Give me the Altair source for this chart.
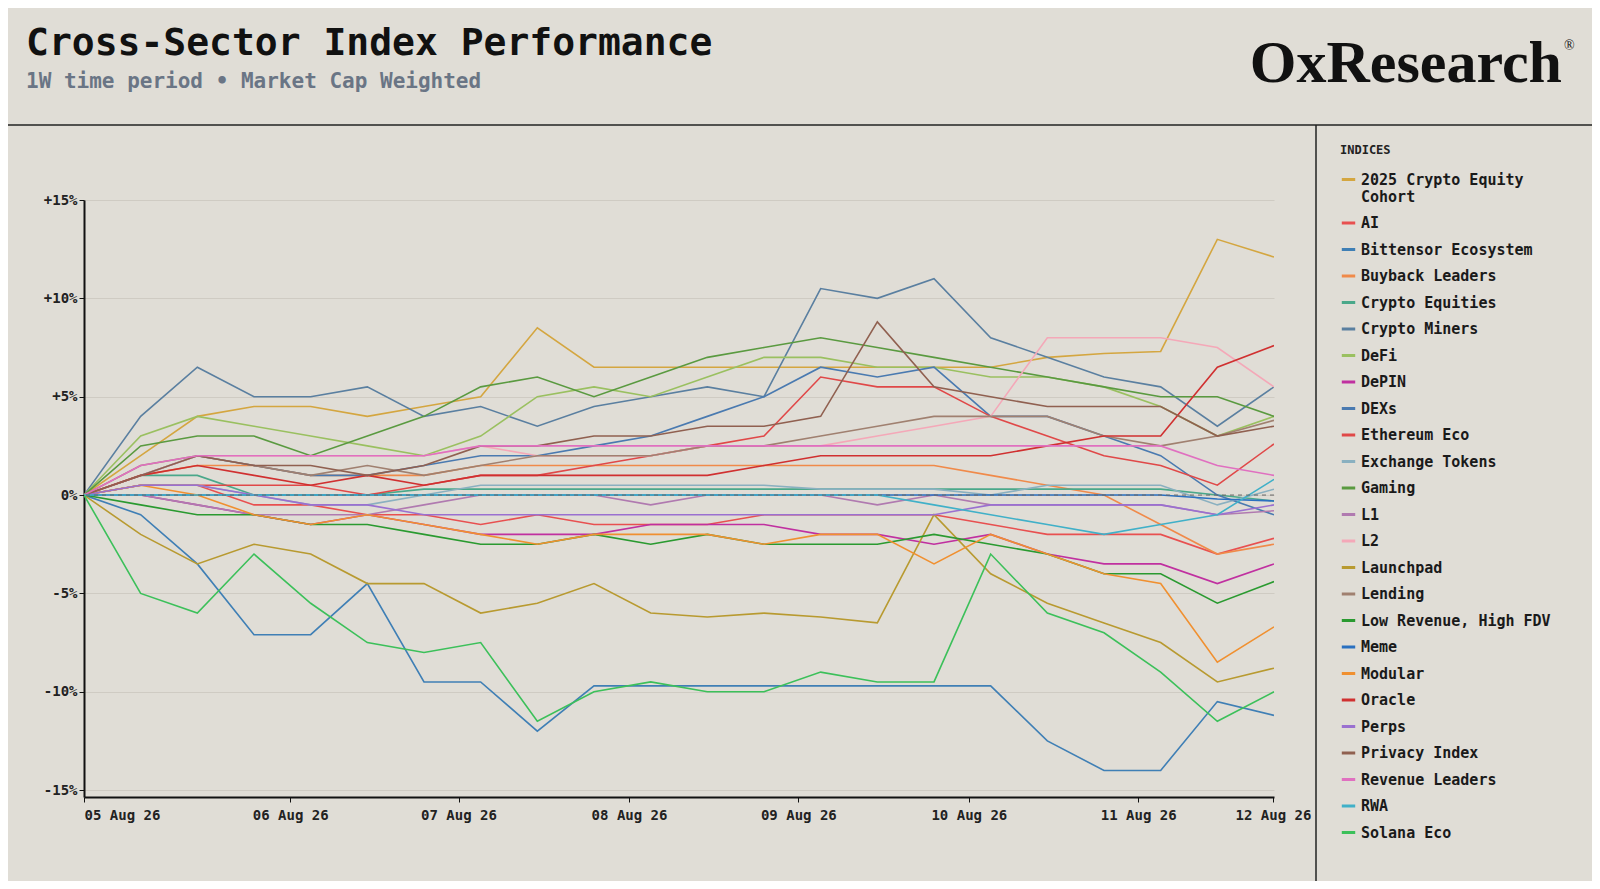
import altair as alt
import pandas as pd

# x positions (days from start) of the sampled points
days = [i / 3 for i in range(22)]

series_names = [
    '2025 Crypto Equity Cohort', 'AI', 'Bittensor Ecosystem', 'Buyback Leaders',
    'Crypto Equities', 'Crypto Miners', 'DeFi', 'DePIN', 'DEXs', 'Ethereum Eco',
    'Exchange Tokens', 'Gaming', 'L1', 'L2', 'Launchpad', 'Lending',
    'Low Revenue, High FDV', 'Meme', 'Modular', 'Oracle', 'Perps',
    'Privacy Index', 'Revenue Leaders', 'RWA', 'Solana Eco',
]
series_colors = [
    '#d4a640', '#e85050', '#3f7fb5', '#f08a4a', '#4aa88a', '#5a7fa0', '#9ac060',
    '#c030a0', '#4a7ab0', '#e04848', '#8ab0c0', '#5a9a40', '#b07ab0', '#f4a8b8',
    '#b89a30', '#a08070', '#2a9a30', '#2a70c0', '#f09030', '#d03030', '#9a70d0',
    '#906050', '#e070c0', '#40b0c8', '#3cc05a',
]

values = {
    '2025 Crypto Equity Cohort': [0, 2, 4, 4.5, 4.5, 4, 4.5, 5, 8.5, 6.5, 6.5, 6.5, 6.5, 6.5, 6.5, 6.5, 6.5, 7, 7.2, 7.3, 13, 12.1],
    'AI': [0, 0.5, 0.5, -0.5, -0.5, -1, -1, -1.5, -1, -1.5, -1.5, -1.5, -1, -1, -1, -1, -1.5, -2, -2, -2, -3, -2.2],
    'Bittensor Ecosystem': [0, -1, -3.5, -7.1, -7.1, -4.5, -9.5, -9.5, -12, -9.7, -9.7, -9.7, -9.7, -9.7, -9.7, -9.7, -9.7, -12.5, -14, -14, -10.5, -11.2],
    'Buyback Leaders': [0, 1, 1.5, 1.5, 1, 1, 1, 1.5, 1.5, 1.5, 1.5, 1.5, 1.5, 1.5, 1.5, 1.5, 1, 0.5, 0, -1.5, -3, -2.5],
    'Crypto Equities': [0, 1, 1, 0, 0, 0, 0.3, 0.3, 0.3, 0.3, 0.3, 0.3, 0.3, 0.3, 0.3, 0.3, 0.3, 0.3, 0.3, 0.3, 0, -0.3],
    'Crypto Miners': [0, 4, 6.5, 5, 5, 5.5, 4, 4.5, 3.5, 4.5, 5, 5.5, 5, 10.5, 10, 11, 8, 7, 6, 5.5, 3.5, 5.5],
    'DeFi': [0, 3, 4, 3.5, 3, 2.5, 2, 3, 5, 5.5, 5, 6, 7, 7, 6.5, 6.5, 6, 6, 5.5, 4.5, 3, 4],
    'DePIN': [0, 0, -0.5, -1, -1.5, -1, -1.5, -2, -2, -2, -1.5, -1.5, -1.5, -2, -2, -2.5, -2, -3, -3.5, -3.5, -4.5, -3.5],
    'DEXs': [0, 1, 2, 1.5, 1, 1, 1.5, 2, 2, 2.5, 3, 4, 5, 6.5, 6, 6.5, 4, 4, 3, 2, 0, -1],
    'Ethereum Eco': [0, 0.5, 0.5, 0.5, 0.5, 0, 0.5, 1, 1, 1.5, 2, 2.5, 3, 6, 5.5, 5.5, 4, 3, 2, 1.5, 0.5, 2.6],
    'Exchange Tokens': [0, 0.5, 0.5, 0, -0.5, -0.5, 0, 0.5, 0.5, 0.5, 0.5, 0.5, 0.5, 0.3, 0.3, 0.3, 0, 0.5, 0.5, 0.5, -0.5, 0.3],
    'Gaming': [0, 2.5, 3, 3, 2, 3, 4, 5.5, 6, 5, 6, 7, 7.5, 8, 7.5, 7, 6.5, 6, 5.5, 5, 5, 4],
    'L1': [0, 0, -0.5, -1, -1, -1, -0.5, 0, 0, 0, -0.5, 0, 0, 0, -0.5, 0, -0.5, -0.5, -0.5, -0.5, -1, -0.8],
    'L2': [0, 1, 2, 2, 2, 2, 2, 2.5, 2, 2, 2, 2.5, 2.5, 2.5, 3, 3.5, 4, 8, 8, 8, 7.5, 5.5],
    'Launchpad': [0, -2, -3.5, -2.5, -3, -4.5, -4.5, -6, -5.5, -4.5, -6, -6.2, -6, -6.2, -6.5, -1, -4, -5.5, -6.5, -7.5, -9.5, -8.8],
    'Lending': [0, 1.5, 2, 1.5, 1, 1.5, 1, 1.5, 2, 2, 2, 2.5, 2.5, 3, 3.5, 4, 4, 4, 3, 2.5, 3, 3.8],
    'Low Revenue, High FDV': [0, -0.5, -1, -1, -1.5, -1.5, -2, -2.5, -2.5, -2, -2.5, -2, -2.5, -2.5, -2.5, -2, -2.5, -3, -4, -4, -5.5, -4.4],
    'Meme': [0, 0, 0, 0, 0, 0, 0, 0, 0, 0, 0, 0, 0, 0, 0, 0, 0, 0, 0, 0, -0.2, -0.3],
    'Modular': [0, 0.5, 0, -1, -1.5, -1, -1.5, -2, -2.5, -2, -2, -2, -2.5, -2, -2, -3.5, -2, -3, -4, -4.5, -8.5, -6.7],
    'Oracle': [0, 1, 1.5, 1, 0.5, 1, 0.5, 1, 1, 1, 1, 1, 1.5, 2, 2, 2, 2, 2.5, 3, 3, 6.5, 7.6],
    'Perps': [0, 0.5, 0.5, 0, -0.5, -0.5, -1, -1, -1, -1, -1, -1, -1, -1, -1, -1, -0.5, -0.5, -0.5, -0.5, -1, -0.5],
    'Privacy Index': [0, 1, 2, 1.5, 1.5, 1, 1.5, 2.5, 2.5, 3, 3, 3.5, 3.5, 4, 8.8, 5.5, 5, 4.5, 4.5, 4.5, 3, 3.5],
    'Revenue Leaders': [0, 1.5, 2, 2, 2, 2, 2, 2.5, 2.5, 2.5, 2.5, 2.5, 2.5, 2.5, 2.5, 2.5, 2.5, 2.5, 2.5, 2.5, 1.5, 1],
    'RWA': [0, 0, 0, 0, 0, 0, 0, 0, 0, 0, 0, 0, 0, 0, 0, -0.5, -1, -1.5, -2, -1.5, -1, 0.8],
    'Solana Eco': [0, -5, -6, -3, -5.5, -7.5, -8, -7.5, -11.5, -10, -9.5, -10, -10, -9, -9.5, -9.5, -3, -6, -7, -9, -11.5, -10],
}

tick_days = [0, 1.213, 2.203, 3.206, 4.202, 5.205, 6.201, 6.994]
tick_labels = ['05 Aug 26', '06 Aug 26', '07 Aug 26', '08 Aug 26', '09 Aug 26', '10 Aug 26', '11 Aug 26', '12 Aug 26']

rows = []
for name in series_names:
    for d, v in zip(days, values[name]):
        rows.append({'day': d, 'pct': v, 'index': name})
df = pd.DataFrame(rows)

MONO = 'DejaVu Sans Mono'
BG = '#e0ddd6'
W, H = 1190, 597

label_js = '[' + ','.join("'%s'" % t for t in tick_labels) + ']'

lines = alt.Chart(df).mark_line(strokeWidth=1.6, clip=True).encode(
    x=alt.X('day:Q', title=None,
            scale=alt.Scale(domain=[0, 7], nice=False, zero=False),
            axis=alt.Axis(values=tick_days, grid=False, labelExpr=label_js + '[round(datum.value - 0.21)]',
                          domainColor='#111', domainWidth=2, tickColor='#111', labelFontSize=14,
                          labelFont=MONO, labelFontWeight='bold', labelColor='#222', labelPadding=6)),
    y=alt.Y('pct:Q', title=None,
            scale=alt.Scale(domain=[-15.35, 15], nice=False),
            axis=alt.Axis(values=[-15, -10, -5, 0, 5, 10, 15], gridColor='#cfcbc3',
                          labelExpr="datum.value > 0 ? '+' + datum.value + '%' : datum.value + '%'",
                          domainColor='#111', domainWidth=2, tickColor='#111', labelFontSize=14,
                          labelFont=MONO, labelFontWeight='bold', labelColor='#222')),
    color=alt.Color('index:N', scale=alt.Scale(domain=series_names, range=series_colors),
                    legend=alt.Legend(title='INDICES', orient='none', legendX=1256, legendY=-55,
                                      titleFont=MONO, titleFontSize=12, titleFontWeight='bold',
                                      titleColor='#222', titlePadding=14,
                                      labelFont=MONO, labelFontSize=15, labelFontWeight='bold',
                                      labelColor='#1a1a1a', labelLimit=260, rowPadding=9.5,
                                      symbolType='stroke', symbolStrokeWidth=3, symbolSize=180,
                                      labelExpr="datum.label == '2025 Crypto Equity Cohort' ? ['2025 Crypto Equity', 'Cohort'] : datum.label")),
)

zero = alt.Chart(pd.DataFrame({'y': [0]})).mark_rule(strokeDash=[4, 4], color='#666', strokeWidth=1).encode(y='y:Q')

hsep = alt.Chart(pd.DataFrame({'a': [0]})).mark_rule(color='#222', strokeWidth=1.5, clip=False).encode(
    x=alt.value(-84), x2=alt.value(1520), y=alt.value(-75))
vsep = alt.Chart(pd.DataFrame({'a': [0]})).mark_rule(color='#222', strokeWidth=1.5, clip=False).encode(
    x=alt.value(1232), y=alt.value(-75), y2=alt.value(690))

def text(s, x, y, size, color, font=MONO, weight='bold', align='left'):
    return alt.Chart(pd.DataFrame({'t': [s]})).mark_text(
        font=font, fontSize=size, fontWeight=weight, color=color, align=align, baseline='alphabetic', clip=False
    ).encode(text='t:N', x=alt.value(x), y=alt.value(y))

title = text('Cross-Sector Index Performance', -58, -145, 38, '#111')
subtitle = text('1W time period • Market Cap Weighted', -58, -112, 21, '#6a7585')
logo = text('OxResearch', 1478, -118, 60, '#111', font='Liberation Serif', align='right')
reg = text('®', 1480, -150, 14, '#111', font='Liberation Serif', weight='normal')

chart = alt.layer(lines, zero, hsep, vsep, title, subtitle, logo, reg).properties(
    width=W, height=H, background=BG,
    autosize=alt.AutoSizeParams(type='none'),
    padding={'left': 76, 'top': 192, 'right': 318, 'bottom': 84},
).configure_view(stroke=None)

chart.save('out.html', embed_options={'renderer': 'svg', 'actions': False})
